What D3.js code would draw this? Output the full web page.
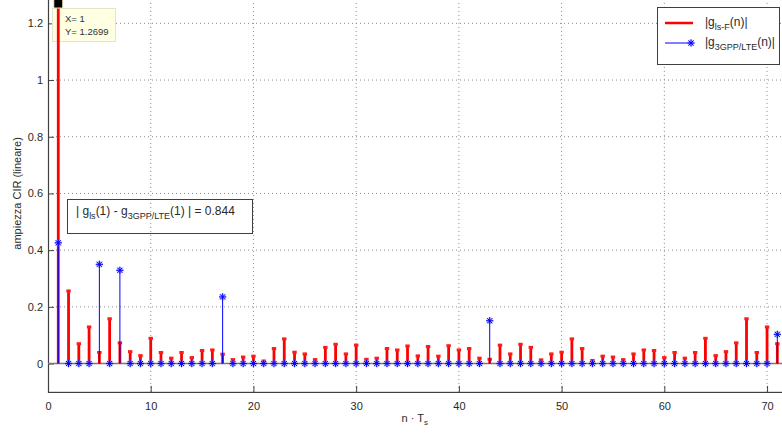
<!DOCTYPE html>
<html>
<head>
<meta charset="utf-8">
<script src="https://cdn.jsdelivr.net/npm/d3@7"></script>
<style>
  html, body { margin: 0; padding: 0; background: #fff; }
  svg { display: block; font-family: "Liberation Sans", Arial, Helvetica, sans-serif; }
</style>
</head>
<body>
<svg id="chart" width="782" height="434"></svg>
<script>
// Sample index n (in units of Ts)
const sampleIndex = d3.range(1, 72);

// |g_ls-F(n)| : least-squares estimated CIR magnitude
const lsMagnitude = [
  1.2699, 0.256, 0.070, 0.129, 0.039, 0.158, 0.073, 0.042, 0.028, 0.089,
  0.039, 0.019, 0.039, 0.021, 0.046, 0.048, 0.033, 0.014, 0.023, 0.026,
  0.009, 0.053, 0.087, 0.040, 0.034, 0.014, 0.057, 0.068, 0.034, 0.065,
  0.015, 0.019, 0.053, 0.048, 0.062, 0.027, 0.060, 0.026, 0.063, 0.048,
  0.053, 0.019, 0.015, 0.065, 0.034, 0.068, 0.057, 0.013, 0.034, 0.040,
  0.087, 0.053, 0.011, 0.026, 0.023, 0.014, 0.034, 0.048, 0.046, 0.021,
  0.039, 0.019, 0.039, 0.089, 0.028, 0.042, 0.073, 0.158, 0.039, 0.129,
  0.070
];

// |g_3GPP/LTE(n)| : reference channel model taps
const lteMagnitude = [
  0.4259, 0, 0, 0, 0.350, 0, 0.329, 0, 0, 0,
  0, 0, 0, 0, 0, 0, 0.235, 0, 0, 0,
  0, 0, 0, 0, 0, 0, 0, 0, 0, 0,
  0, 0, 0, 0, 0, 0, 0, 0, 0, 0,
  0, 0, 0.151, 0, 0, 0, 0, 0, 0, 0,
  0, 0, 0, 0, 0, 0, 0, 0, 0, 0,
  0, 0, 0, 0, 0, 0, 0, 0, 0, 0,
  0.103
];

const xTicks = [0, 10, 20, 30, 40, 50, 60, 70];
const yTicks = [0, 0.2, 0.4, 0.6, 0.8, 1, 1.2];

const xDomain = [0, 72];
const yDomain = [-0.1, 1.3];

const tipIndex = 1;
const tipValue = 1.2699;
const diffLabel = 0.844;

const svg = d3.select("#chart");

const plotLeft = 48, plotRight = 787.6, plotTop = -5, plotBottom = 391.9;
const x = d3.scaleLinear().domain(xDomain).range([plotLeft, plotRight]);
const y = d3.scaleLinear().domain(yDomain).range([plotBottom, plotTop]);

const axisColor = "#404040";
const textColor = "#2a2a2a";

// Dotted grid
const grid = svg.append("g");
grid.selectAll(".gx").data(xTicks.filter(d => d > 0)).join("line")
  .attr("x1", d => x(d)).attr("x2", d => x(d))
  .attr("y1", y(yDomain[0])).attr("y2", y(yDomain[1]))
  .attr("stroke", "#8a8a8a").attr("stroke-width", 1)
  .attr("stroke-dasharray", "1,3");
grid.selectAll(".gy").data(yTicks.filter(d => d > 0)).join("line")
  .attr("x1", x(xDomain[0])).attr("x2", x(xDomain[1]))
  .attr("y1", d => y(d)).attr("y2", d => y(d))
  .attr("stroke", "#8a8a8a").attr("stroke-width", 1)
  .attr("stroke-dasharray", "1,3");

// Axes frame
svg.append("rect")
  .attr("x", plotLeft + 0.5).attr("y", plotTop + 0.5)
  .attr("width", plotRight - plotLeft).attr("height", plotBottom - plotTop)
  .attr("fill", "none").attr("stroke", axisColor).attr("stroke-width", 1.2);

// Bottom axis (inward ticks)
const xAxis = d3.axisBottom(x).tickValues(xTicks).tickSize(-6).tickPadding(10)
  .tickFormat(d3.format("d"));
const gx = svg.append("g").attr("transform", `translate(0,${plotBottom})`).call(xAxis);
gx.select(".domain").remove();
gx.selectAll("line").attr("stroke", axisColor);
gx.selectAll("text").attr("fill", textColor).attr("font-size", 11)
  .attr("font-family", "Liberation Sans, Arial, sans-serif");

// Left axis (inward ticks)
const yAxis = d3.axisLeft(y).tickValues(yTicks).tickSize(-6).tickPadding(5)
  .tickFormat(d => d3.format("~g")(d));
const gy = svg.append("g").attr("transform", `translate(${plotLeft},0)`).call(yAxis);
gy.select(".domain").remove();
gy.selectAll("line").attr("stroke", axisColor);
gy.selectAll("text").attr("fill", textColor).attr("font-size", 11)
  .attr("font-family", "Liberation Sans, Arial, sans-serif");

// Axis labels
const xl = svg.append("text")
  .attr("x", (plotLeft + plotRight) / 2 - 3).attr("y", 422)
  .attr("text-anchor", "middle").attr("fill", textColor).attr("font-size", 11);
xl.append("tspan").text("n \u00b7 T");
xl.append("tspan").attr("font-size", 8).attr("dy", 3).text("s");

svg.append("text")
  .attr("transform", `translate(21,${(plotTop + plotBottom) / 2}) rotate(-90)`)
  .attr("text-anchor", "middle").attr("fill", textColor).attr("font-size", 11)
  .text("ampiezza CIR (lineare)");

// Data tip box (drawn under the stems)
const tip = svg.append("g");
tip.append("rect")
  .attr("x", 52.5).attr("y", 8.5).attr("width", 63).attr("height", 33)
  .attr("fill", "#ffffe1").attr("stroke", "#e4e4c8").attr("stroke-width", 1);
tip.append("text").attr("x", 65).attr("y", 22).attr("font-size", 9.5)
  .attr("fill", "#333").text(`X= ${tipIndex}`);
tip.append("text").attr("x", 65).attr("y", 35).attr("font-size", 9.5)
  .attr("fill", "#333").text(`Y= ${tipValue}`);

// Stem baseline
svg.append("line")
  .attr("x1", x(xDomain[0])).attr("x2", x(xDomain[1]))
  .attr("y1", y(0)).attr("y2", y(0))
  .attr("stroke", "#7a7a7a").attr("stroke-width", 1.6);

// Red stems: |g_ls-F(n)|
const lsData = sampleIndex.map((n, i) => ({ n, v: lsMagnitude[i] }));
svg.append("g").selectAll("line").data(lsData).join("line")
  .attr("x1", d => x(d.n)).attr("x2", d => x(d.n))
  .attr("y1", y(0)).attr("y2", d => y(d.v))
  .attr("stroke", "#ff0000").attr("stroke-width", 2.8);
svg.append("g").selectAll("rect").data(lsData).join("rect")
  .attr("x", d => x(d.n) - 2.2).attr("y", d => y(d.v) - 1.5)
  .attr("width", 4.4).attr("height", 3)
  .attr("fill", "#ff1a1a");

// Blue stems with asterisk markers: |g_3GPP/LTE(n)|
const lteData = sampleIndex.map((n, i) => ({ n, v: lteMagnitude[i] }));
svg.append("g").selectAll("line").data(lteData.filter(d => d.v > 0)).join("line")
  .attr("x1", d => x(d.n)).attr("x2", d => x(d.n))
  .attr("y1", y(0)).attr("y2", d => y(d.v))
  .attr("stroke", "#0000ff").attr("stroke-width", 1);

function asterisk(g, r) {
  const a = r * Math.SQRT1_2;
  const path = `M${-r},0L${r},0M0,${-r}L0,${r}M${-a},${-a}L${a},${a}M${-a},${a}L${a},${-a}`;
  g.append("path").attr("d", path).attr("stroke", "#8f8fff").attr("stroke-width", 2.2)
    .attr("stroke-opacity", 0.55).attr("fill", "none");
  g.append("path").attr("d", path).attr("stroke", "#0000ff").attr("stroke-width", 1)
    .attr("fill", "none");
}
svg.append("g").selectAll("g").data(lteData).join("g")
  .attr("transform", d => `translate(${x(d.n)},${y(d.v)})`)
  .each(function () { asterisk(d3.select(this), 3.6); });

// Data tip marker
svg.append("rect")
  .attr("x", x(tipIndex) - 4.5).attr("y", y(tipValue) - 4.5)
  .attr("width", 9).attr("height", 9)
  .attr("fill", "#000").attr("stroke", "#f5f0c0").attr("stroke-width", 1);

// Difference annotation box
svg.append("rect")
  .attr("x", 67.5).attr("y", 199.5).attr("width", 185).attr("height", 34)
  .attr("fill", "none").attr("stroke", "#404040").attr("stroke-width", 1);
const ann = svg.append("text").attr("x", 76).attr("y", 215)
  .attr("font-size", 12).attr("fill", textColor);
ann.append("tspan").text("| g");
ann.append("tspan").attr("font-size", 9).attr("dy", 4).text("ls");
ann.append("tspan").attr("dy", -4).text("(1) - g");
ann.append("tspan").attr("font-size", 9).attr("dy", 4).text("3GPP/LTE");
ann.append("tspan").attr("dy", -4).text(`(1) | = ${diffLabel}`);

// Legend
const lg = svg.append("g");
lg.append("rect")
  .attr("x", 657.5).attr("y", 7.5).attr("width", 122).attr("height", 57)
  .attr("fill", "#fff").attr("stroke", "#404040").attr("stroke-width", 1);
lg.append("line").attr("x1", 665).attr("x2", 693).attr("y1", 23).attr("y2", 23)
  .attr("stroke", "#ff0000").attr("stroke-width", 2.5);
lg.append("line").attr("x1", 665).attr("x2", 693).attr("y1", 43).attr("y2", 43)
  .attr("stroke", "#0000ff").attr("stroke-width", 1);
asterisk(lg.append("g").attr("transform", "translate(691,43)"), 3.6);

const t1 = lg.append("text").attr("x", 705).attr("y", 26).attr("font-size", 12).attr("fill", textColor);
t1.append("tspan").text("|g");
t1.append("tspan").attr("font-size", 9).attr("dy", 4).text("ls-F");
t1.append("tspan").attr("dy", -4).text("(n)|");
const t2 = lg.append("text").attr("x", 705).attr("y", 46).attr("font-size", 12).attr("fill", textColor);
t2.append("tspan").text("|g");
t2.append("tspan").attr("font-size", 9).attr("dy", 4).text("3GPP/LTE");
t2.append("tspan").attr("dy", -4).text("(n)|");
</script>
</body>
</html>
